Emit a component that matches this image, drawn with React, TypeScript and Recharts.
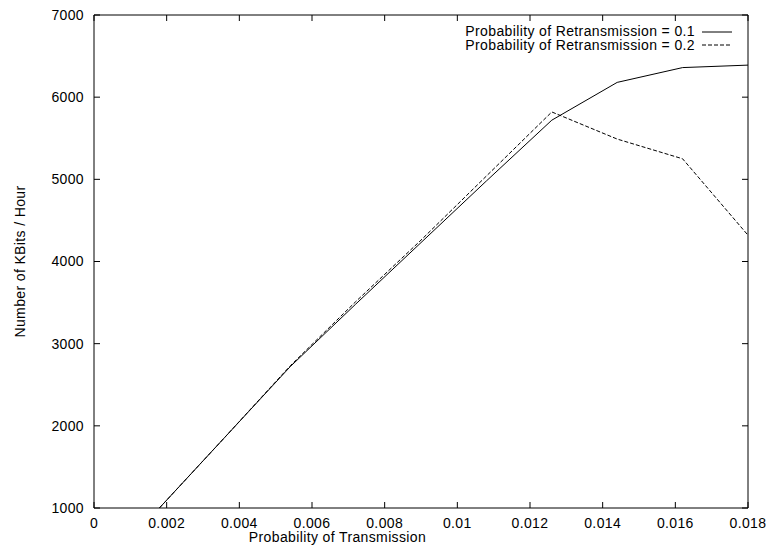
import React from 'react';
import {
  LineChart,
  Line,
  XAxis,
  YAxis,
  Legend,
  ReferenceArea,
} from 'recharts';

// probability of transmission (x) and throughput for each retransmission probability
const txProb = [0.0018, 0.0036, 0.0054, 0.0072, 0.009, 0.0108, 0.0126, 0.0144, 0.0162, 0.018];
const retx01 = [1000, 1860, 2720, 3480, 4230, 4980, 5720, 6180, 6360, 6390];
const retx02 = [1000, 1860, 2730, 3510, 4260, 5040, 5820, 5490, 5250, 4320];

const xTicks = [0, 0.002, 0.004, 0.006, 0.008, 0.01, 0.012, 0.014, 0.016, 0.018];
const yTicks = [1000, 2000, 3000, 4000, 5000, 6000, 7000];

const seriesNames = ['Probability of Retransmission = 0.1', 'Probability of Retransmission = 0.2'];

const data = txProb.map((p, i) => ({ p, a: retx01[i], b: retx02[i] }));

const W = 768;
const H = 550;
const MARGIN = { top: 15, right: 20, left: 0, bottom: 0 };
const PLOT_TOP = MARGIN.top;
const PLOT_RIGHT = W - MARGIN.right;
const TICK = 6;
const FS = 14;
const LS = 0.37; // the reference font runs a bit wider
const DASH = '4 2';

const fmtX = (v: number) => String(Number(v.toFixed(3)));

const XTick = (props: any) => {
  const { x, y, payload } = props;
  return (
    <g>
      <line x1={x} x2={x} y1={y} y2={y - TICK} stroke="#000" />
      <line x1={x} x2={x} y1={PLOT_TOP} y2={PLOT_TOP + TICK} stroke="#000" />
      <text x={x} y={y + 20} textAnchor="middle" fontSize={FS} letterSpacing={LS} fill="#000">
        {fmtX(payload.value)}
      </text>
    </g>
  );
};

const YTick = (props: any) => {
  const { x, y, payload } = props;
  return (
    <g>
      <line x1={x} x2={x + TICK} y1={y} y2={y} stroke="#000" />
      <line x1={PLOT_RIGHT - TICK} x2={PLOT_RIGHT} y1={y} y2={y} stroke="#000" />
      <text x={x - 10} y={y} dy="0.35em" textAnchor="end" fontSize={FS} letterSpacing={LS} fill="#000">
        {payload.value}
      </text>
    </g>
  );
};

const renderLegend = () => (
  <div style={{ fontSize: FS, lineHeight: '13.5px', letterSpacing: LS, color: '#000' }}>
    {seriesNames.map((name, i) => (
      <div key={name} style={{ display: 'flex', alignItems: 'center', justifyContent: 'flex-end' }}>
        <span style={{ whiteSpace: 'nowrap' }}>{name}</span>
        <svg width={30} height={10} style={{ marginLeft: 7 }}>
          <line x1={0} x2={30} y1={5} y2={5} stroke="#000" strokeDasharray={i === 1 ? DASH : undefined} />
        </svg>
      </div>
    ))}
  </div>
);

export default function App() {
  return (
    <div
      style={{
        position: 'absolute',
        left: 0,
        top: 0,
        width: W,
        height: H,
        background: '#fff',
        fontFamily: '"Liberation Sans", Arial, sans-serif',
      }}
    >
      <LineChart width={W} height={H} data={data} margin={MARGIN}>
        <XAxis
          dataKey="p"
          type="number"
          domain={[0, 0.018]}
          ticks={xTicks}
          allowDataOverflow
          height={42}
          axisLine={false}
          tickLine={false}
          tickSize={0}
          tickMargin={0}
          tick={<XTick />}
          interval={0}
          label={{
            value: 'Probability of Transmission',
            content: ({ viewBox }: any) => (
              <text
                x={viewBox.x + viewBox.width / 2 - 83.5}
                y={viewBox.y + 33.5}
                textAnchor="middle"
                fontSize={FS}
                letterSpacing={LS}
                fill="#000"
              >
                Probability of Transmission
              </text>
            ),
          }}
        />
        <YAxis
          type="number"
          domain={[1000, 7000]}
          ticks={yTicks}
          allowDataOverflow
          width={94}
          axisLine={false}
          tickLine={false}
          tickSize={0}
          tickMargin={0}
          tick={<YTick />}
          interval={0}
          label={{
            value: 'Number of KBits / Hour',
            content: ({ viewBox }: any) => {
              const cx = viewBox.x + 25;
              const cy = viewBox.y + viewBox.height / 2;
              return (
                <text
                  x={cx}
                  y={cy}
                  transform={`rotate(-90, ${cx}, ${cy})`}
                  textAnchor="middle"
                  fontSize={FS}
                  letterSpacing={LS}
                  fill="#000"
                >
                  Number of KBits / Hour
                </text>
              );
            },
          }}
        />
        <ReferenceArea x1={0} x2={0.018} y1={1000} y2={7000} fill="none" stroke="#000" ifOverflow="visible" />
        <Legend
          layout="vertical"
          align="center"
          verticalAlign="middle"
          content={renderLegend}
          wrapperStyle={{ top: 25, right: 36, left: 'auto', bottom: 'auto', width: 'auto', height: 'auto' }}
        />
        <Line
          dataKey="a"
          name={seriesNames[0]}
          stroke="#000"
          strokeWidth={1}
          dot={false}
          type="linear"
          isAnimationActive={false}
        />
        <Line
          dataKey="b"
          name={seriesNames[1]}
          stroke="#000"
          strokeWidth={1}
          strokeDasharray={DASH}
          dot={false}
          type="linear"
          isAnimationActive={false}
        />
      </LineChart>
    </div>
  );
}
